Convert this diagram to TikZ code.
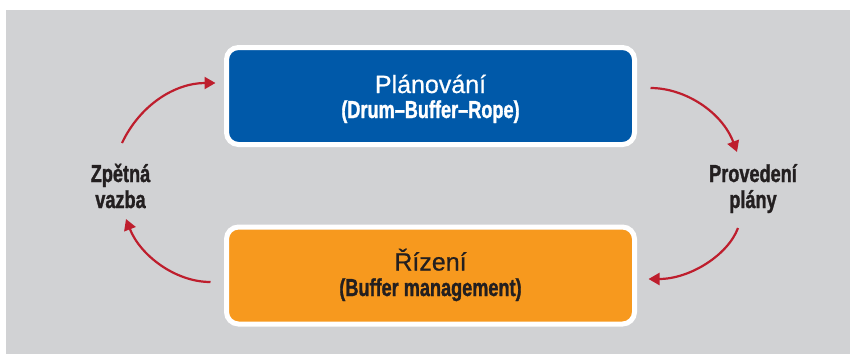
\documentclass[tikz,border=0pt]{standalone}
\usepackage{fontspec}
\setmainfont{Liberation Sans}
\newfontfamily\titlefont[FakeBold=0.6]{Liberation Sans}
\newfontfamily\condfont[FakeStretch=0.74,FakeBold=1.2]{Liberation Sans}
\usetikzlibrary{arrows.meta}
\definecolor{panelgray}{HTML}{D1D2D4}
\definecolor{planblue}{HTML}{0059A9}
\definecolor{ctrlorange}{HTML}{F7991E}
\definecolor{loopred}{HTML}{BE1E2D}
\definecolor{inkdark}{HTML}{231F20}
\tikzset{
  stagebox/.style={draw=white, line width=5pt, rounded corners=12pt,
    minimum width=408pt, minimum height=97pt, inner sep=0pt},
  titletext/.style={font=\titlefont\fontsize{25}{30}\selectfont, anchor=base, inner sep=0pt},
  subtext/.style={font=\condfont\bfseries\fontsize{24.5}{28}\selectfont, anchor=base, inner sep=0pt},
  sidetext/.style={font=\condfont\bfseries\fontsize{24.5}{28}\selectfont, text=inkdark, anchor=base, inner sep=0pt},
  looparrow/.style={draw=loopred, line width=2.2pt,
    -{Triangle[length=11pt,width=12pt]}}
}
\begin{document}
\begin{tikzpicture}[x=1pt,y=-1pt]
  \useasboundingbox (0,0) rectangle (852,354);
  \fill[white] (0,0) rectangle (852,354);
  \fill[panelgray] (6,10) rectangle (850,354);

  % the two stages
  \node[stagebox, fill=planblue] (plan) at (430.5,96) {};
  \node[stagebox, fill=ctrlorange] (ctrl) at (430.5,275.5) {};

  \node[titletext, text=white] (plantitle) at (430.5,93) {Plánování};
  \node[subtext, text=white] (plansub) at (430.5,118) {(Drum–Buffer–Rope)};
  \node[titletext, text=inkdark] (ctrltitle) at (430.5,270.5) {Řízení};
  \node[subtext, text=inkdark] (ctrlsub) at (430.5,296) {(Buffer management)};

  % side labels
  \node[sidetext] (fb1) at (120.5,182) {Zpětná};
  \node[sidetext] (fb2) at (120.5,208) {vazba};
  \node[sidetext] (pp1) at (753,182) {Provedení};
  \node[sidetext] (pp2) at (753,208) {plány};

  % the loop
  \draw[looparrow] ([xshift=1.5pt,yshift=39pt]fb1.base)
    .. controls (140,105) and (175,83) .. ([xshift=-8.5pt,yshift=13pt]plan.west);
  \draw[looparrow] ([xshift=13.5pt,yshift=8pt]plan.east)
    .. controls (685,88) and (722,112) .. ([xshift=-16pt,yshift=30pt]pp1.base);
  \draw[looparrow] ([xshift=-15pt,yshift=-20pt]pp2.base)
    .. controls (728,255) and (690,279) .. ([xshift=11.5pt,yshift=-3.5pt]ctrl.east);
  \draw[looparrow] ([xshift=-13.5pt,yshift=-6.5pt]ctrl.west)
    .. controls (175,282) and (140,255) .. ([xshift=5.5pt,yshift=-11pt]fb2.base);
\end{tikzpicture}
\end{document}
